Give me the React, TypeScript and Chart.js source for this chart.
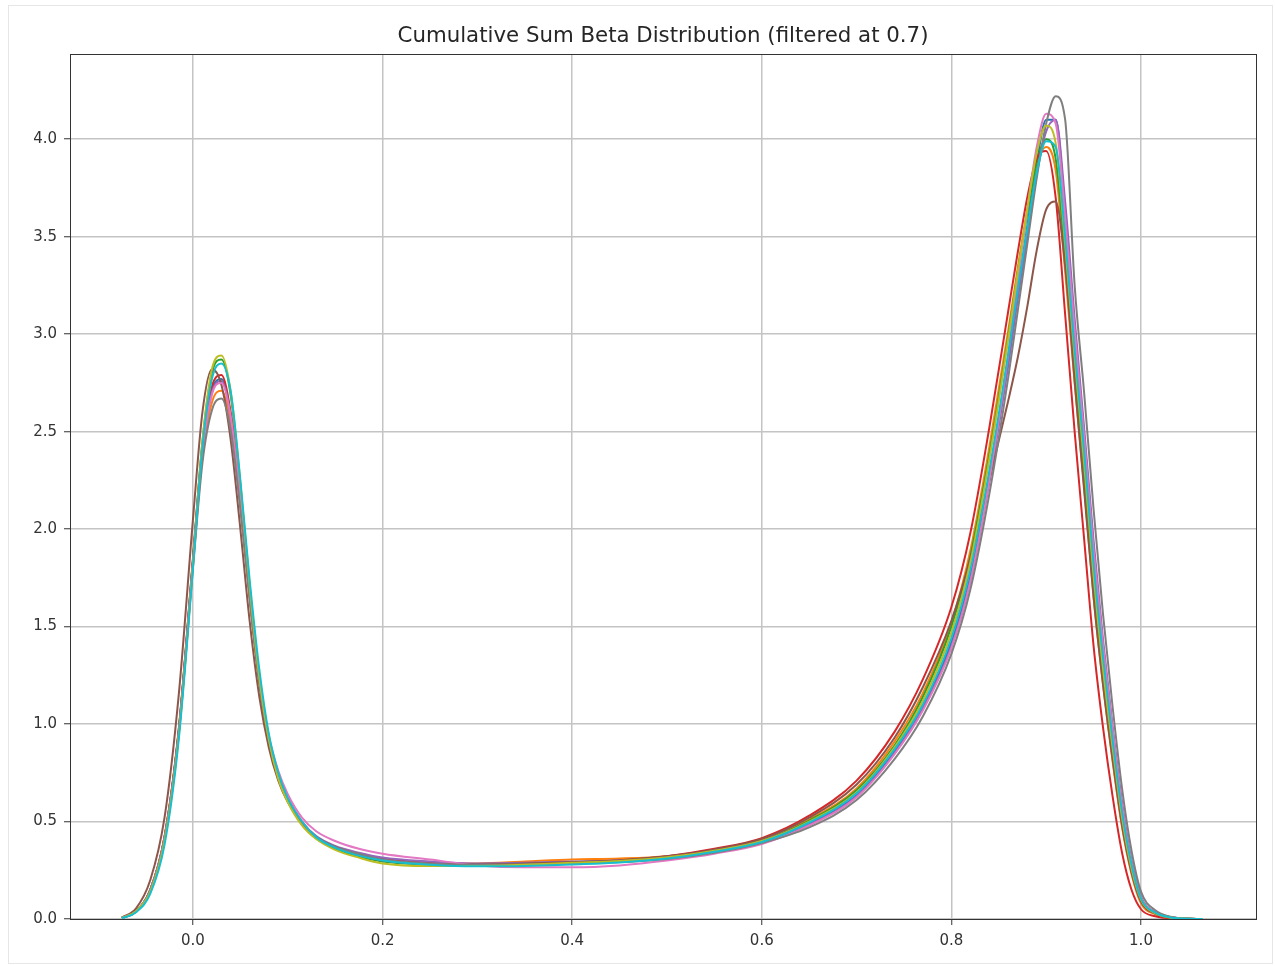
import React, { useEffect, useRef } from "react";
import { Chart, registerables } from "chart.js";

Chart.register(...registerables);

const TITLE = "Cumulative Sum Beta Distribution (filtered at 0.7)";
const X_MIN = -0.1297;
const X_MAX = 1.1213;
const Y_MIN = 0;
const Y_MAX = 4.437;
const X_TICKS = [0.0, 0.2, 0.4, 0.6, 0.8, 1.0];
const Y_TICKS = [0.0, 0.5, 1.0, 1.5, 2.0, 2.5, 3.0, 3.5, 4.0];

const X_GRID = [
  -0.075, -0.06, -0.045, -0.03, -0.015, 0.0, 0.01, 0.02, 0.03, 0.04,
  0.05, 0.06, 0.07, 0.08, 0.09, 0.1, 0.115, 0.13, 0.15, 0.175,
  0.2, 0.25, 0.3, 0.35, 0.4, 0.45, 0.5, 0.55, 0.6,
  0.65, 0.7, 0.74, 0.77, 0.8, 0.82, 0.84, 0.86, 0.87, 0.88, 0.89, 0.9, 0.91, 0.92, 0.93,
  0.94, 0.95, 0.96, 0.97, 0.98, 0.99, 1.0, 1.015, 1.03, 1.045, 1.065,
];

const SERIES_NAMES = ["s0", "s1", "s2", "s3", "s4", "s5", "s6", "s7", "s8", "s9"];
const SERIES_COLORS = [
  "#1f77b4", "#ff7f0e", "#2ca02c", "#d62728", "#9467bd",
  "#8c564b", "#e377c2", "#7f7f7f", "#bcbd22", "#17becf",
];

const S0 = [
  0.005, 0.04, 0.15, 0.42, 0.97, 1.84, 2.41, 2.71, 2.77, 2.58, 2.15, 1.65, 1.22, 0.92, 0.73, 0.61, 0.49, 0.42, 0.37, 0.335,
  0.31, 0.285, 0.275, 0.277, 0.285, 0.293, 0.31, 0.345, 0.395,
  0.49, 0.635, 0.86, 1.09, 1.42, 1.76, 2.27, 2.88, 3.22, 3.55, 3.88, 4.10, 4.10, 3.62, 3.02, 2.48, 1.90, 1.40, 0.97, 0.58, 0.29, 0.11, 0.035, 0.01, 0.002, 0.0,
];
const S1 = [
  0.005, 0.04, 0.15, 0.42, 0.96, 1.82, 2.37, 2.65, 2.71, 2.53, 2.12, 1.64, 1.22, 0.92, 0.73, 0.61, 0.49, 0.42, 0.37, 0.33,
  0.30, 0.285, 0.285, 0.295, 0.305, 0.31, 0.322, 0.352, 0.40,
  0.51, 0.67, 0.91, 1.16, 1.52, 1.89, 2.42, 3.02, 3.34, 3.63, 3.87, 3.96, 3.84, 3.32, 2.75, 2.22, 1.65, 1.20, 0.81, 0.47, 0.23, 0.08, 0.025, 0.007, 0.001, 0.0,
];
const S2 = [
  0.005, 0.04, 0.15, 0.41, 0.96, 1.84, 2.45, 2.80, 2.87, 2.68, 2.22, 1.69, 1.24, 0.93, 0.73, 0.61, 0.49, 0.415, 0.36, 0.32,
  0.295, 0.278, 0.272, 0.276, 0.285, 0.296, 0.316, 0.35, 0.40,
  0.505, 0.66, 0.89, 1.14, 1.50, 1.86, 2.38, 2.99, 3.32, 3.62, 3.88, 4.0, 3.90, 3.40, 2.82, 2.30, 1.72, 1.25, 0.86, 0.50, 0.25, 0.095, 0.03, 0.008, 0.002, 0.0,
];
const S3 = [
  0.005, 0.04, 0.15, 0.42, 0.97, 1.85, 2.43, 2.73, 2.79, 2.59, 2.16, 1.65, 1.22, 0.92, 0.73, 0.61, 0.49, 0.42, 0.37, 0.33,
  0.31, 0.29, 0.282, 0.285, 0.29, 0.30, 0.322, 0.36, 0.415,
  0.53, 0.71, 0.96, 1.23, 1.60, 1.98, 2.52, 3.12, 3.42, 3.70, 3.90, 3.94, 3.70, 3.10, 2.50, 1.95, 1.40, 0.98, 0.63, 0.34, 0.15, 0.05, 0.014, 0.004, 0.001, 0.0,
];
const S4 = [
  0.005, 0.04, 0.15, 0.42, 0.96, 1.83, 2.40, 2.70, 2.76, 2.57, 2.15, 1.66, 1.23, 0.93, 0.74, 0.62, 0.50, 0.425, 0.375, 0.34,
  0.315, 0.295, 0.285, 0.288, 0.295, 0.30, 0.315, 0.348, 0.396,
  0.485, 0.63, 0.85, 1.08, 1.40, 1.74, 2.24, 2.84, 3.18, 3.50, 3.82, 4.04, 4.10, 3.68, 3.08, 2.52, 1.94, 1.43, 0.99, 0.60, 0.30, 0.115, 0.035, 0.01, 0.002, 0.0,
];
const S5 = [
  0.008, 0.055, 0.2, 0.52, 1.15, 2.05, 2.6, 2.82, 2.74, 2.45, 2.0, 1.52, 1.14, 0.88, 0.71, 0.6, 0.49, 0.42, 0.37, 0.33,
  0.30, 0.283, 0.28, 0.285, 0.293, 0.302, 0.322, 0.357, 0.41,
  0.52, 0.69, 0.93, 1.19, 1.53, 1.85, 2.25, 2.66, 2.88, 3.14, 3.43, 3.64, 3.68, 3.35, 2.76, 2.20, 1.65, 1.20, 0.82, 0.48, 0.24, 0.09, 0.028, 0.008, 0.002, 0.0,
];
const S6 = [
  0.005, 0.04, 0.15, 0.41, 0.95, 1.82, 2.39, 2.69, 2.75, 2.57, 2.15, 1.66, 1.24, 0.94, 0.76, 0.64, 0.52, 0.45, 0.40, 0.36,
  0.335, 0.305, 0.275, 0.265, 0.265, 0.275, 0.30, 0.335, 0.385,
  0.48, 0.625, 0.845, 1.07, 1.39, 1.73, 2.25, 2.90, 3.28, 3.64, 3.96, 4.13, 4.08, 3.60, 3.02, 2.47, 1.89, 1.40, 0.97, 0.58, 0.29, 0.11, 0.035, 0.01, 0.002, 0.0,
];
const S7 = [
  0.005, 0.04, 0.15, 0.41, 0.95, 1.80, 2.34, 2.61, 2.67, 2.50, 2.10, 1.63, 1.21, 0.92, 0.73, 0.61, 0.49, 0.42, 0.37, 0.335,
  0.305, 0.285, 0.278, 0.28, 0.285, 0.292, 0.308, 0.34, 0.39,
  0.47, 0.61, 0.82, 1.04, 1.36, 1.69, 2.18, 2.78, 3.12, 3.46, 3.80, 4.08, 4.22, 4.10, 3.25, 2.70, 2.10, 1.56, 1.09, 0.67, 0.35, 0.14, 0.045, 0.013, 0.003, 0.0,
];
const S8 = [
  0.005, 0.04, 0.14, 0.40, 0.94, 1.82, 2.45, 2.82, 2.89, 2.70, 2.24, 1.70, 1.24, 0.92, 0.72, 0.60, 0.48, 0.41, 0.355, 0.315,
  0.285, 0.272, 0.272, 0.278, 0.288, 0.298, 0.317, 0.35, 0.40,
  0.50, 0.65, 0.88, 1.12, 1.47, 1.83, 2.36, 2.98, 3.32, 3.64, 3.93, 4.07, 3.98, 3.46, 2.88, 2.34, 1.76, 1.28, 0.88, 0.52, 0.26, 0.10, 0.03, 0.008, 0.002, 0.0,
];
const S9 = [
  0.004, 0.035, 0.13, 0.38, 0.92, 1.80, 2.42, 2.77, 2.85, 2.70, 2.25, 1.73, 1.28, 0.95, 0.75, 0.62, 0.50, 0.42, 0.365, 0.325,
  0.30, 0.278, 0.27, 0.272, 0.28, 0.29, 0.31, 0.345, 0.395,
  0.495, 0.645, 0.87, 1.10, 1.44, 1.79, 2.30, 2.90, 3.23, 3.54, 3.83, 3.99, 3.96, 3.50, 2.92, 2.40, 1.82, 1.34, 0.92, 0.55, 0.28, 0.105, 0.033, 0.009, 0.002, 0.0,
];
const SERIES_VALUES = [S0, S1, S2, S3, S4, S5, S6, S7, S8, S9];

const W = 1275;
const H = 966;
const FONT = "'DejaVu Sans', 'Liberation Sans', sans-serif";

const framePlugin = {
  id: "frame",
  beforeDraw(chart: any) {
    const ctx = chart.ctx;
    ctx.save();
    ctx.fillStyle = "#ffffff";
    ctx.fillRect(0, 0, chart.width, chart.height);
    ctx.strokeStyle = "#e6e6e6";
    ctx.lineWidth = 1;
    ctx.strokeRect(8.5, 5.5, 1264, 958);
    ctx.restore();
  },
  afterDraw(chart: any) {
    const { ctx, chartArea } = chart;
    ctx.save();
    ctx.strokeStyle = "#333333";
    ctx.lineWidth = 1;
    ctx.strokeRect(
      Math.round(chartArea.left) + 0.5,
      Math.round(chartArea.top) + 0.5,
      Math.round(chartArea.right - chartArea.left),
      Math.round(chartArea.bottom - chartArea.top)
    );
    ctx.fillStyle = "#262626";
    ctx.font = `21.3px ${FONT}`;
    ctx.textAlign = "center";
    ctx.textBaseline = "middle";
    ctx.fillText(TITLE, (chartArea.left + chartArea.right) / 2, 36);
    ctx.restore();
  },
};

export default function App() {
  const ref = useRef<HTMLCanvasElement | null>(null);

  useEffect(() => {
    if (!ref.current) return;
    const datasets = SERIES_VALUES.map((vals, i) => ({
      label: SERIES_NAMES[i],
      data: X_GRID.map((x, j) => ({ x, y: vals[j] })),
      borderColor: SERIES_COLORS[i],
      backgroundColor: SERIES_COLORS[i],
      borderWidth: 2,
      pointRadius: 0,
      fill: false,
      cubicInterpolationMode: "monotone" as const,
      order: SERIES_VALUES.length - i,
    }));
    const chart = new Chart(ref.current, {
      type: "line",
      data: { datasets },
      plugins: [framePlugin],
      options: {
        animation: false,
        responsive: false,
        devicePixelRatio: 1,
        layout: { padding: { left: 0, top: 54, right: 19, bottom: 0 } },
        plugins: {
          legend: { display: false },
          tooltip: { enabled: false },
          title: { display: false },
        },
        scales: {
          x: {
            type: "linear",
            min: X_MIN,
            max: X_MAX,
            afterBuildTicks: (s: any) => {
              s.ticks = X_TICKS.map((v) => ({ value: v }));
            },
            afterFit: (s: any) => {
              s.height = H - 919;
            },
            grid: {
              color: "#c4c4c4",
              lineWidth: 1.5,
              tickColor: "#333333",
              tickLength: 6,
              tickWidth: 1,
            },
            border: { display: true, color: "#333333", width: 1 },
            ticks: {
              color: "#333333",
              font: { family: FONT, size: 15 },
              padding: 7,
              maxRotation: 0,
              callback: (v: any) => Number(v).toFixed(1),
            },
          },
          y: {
            type: "linear",
            min: Y_MIN,
            max: Y_MAX,
            afterBuildTicks: (s: any) => {
              s.ticks = Y_TICKS.map((v) => ({ value: v }));
            },
            afterFit: (s: any) => {
              s.width = 70;
            },
            grid: {
              color: "#c4c4c4",
              lineWidth: 1.5,
              tickColor: "#333333",
              tickLength: 6,
              tickWidth: 1,
            },
            border: { display: true, color: "#333333", width: 1 },
            ticks: {
              color: "#333333",
              font: { family: FONT, size: 15 },
              padding: 7,
              callback: (v: any) => Number(v).toFixed(1),
            },
          },
        },
      },
    });
    return () => chart.destroy();
  }, []);

  return (
    <div style={{ position: "fixed", left: 0, top: 0, width: W, height: H, background: "#fff" }}>
      <canvas ref={ref} width={W} height={H} style={{ width: W, height: H, display: "block" }} />
    </div>
  );
}
